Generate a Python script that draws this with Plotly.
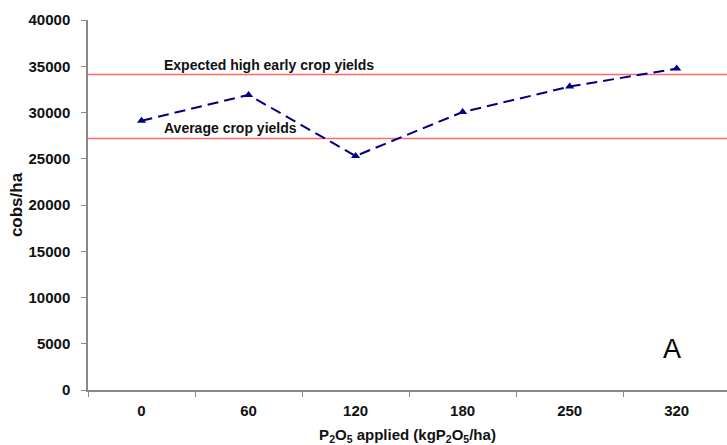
import plotly.graph_objects as go

# P2O5 rates (kg P2O5/ha) and resulting cob yields (cobs/ha)
rates = ["0", "60", "120", "180", "250", "320"]
cobs = [29100, 31900, 25300, 30050, 32800, 34750]

# reference yield levels
ref_labels = ["Expected high early crop yields", "Average crop yields"]
ref_values = [34100, 27200]

y_ticks = [0, 5000, 10000, 15000, 20000, 25000, 30000, 35000, 40000]
y_tick_text = [str(v) for v in y_ticks]

FONT = "Liberation Sans, Arial, sans-serif"
PLOT_LEFT, PLOT_WIDTH = 88, 639

fig = go.Figure()

fig.add_trace(go.Scatter(
    x=rates, y=cobs, mode="lines+markers",
    line=dict(color="#000080", width=2, dash="11px,6px"),
    marker=dict(symbol="triangle-up", size=8, color="#000080"),
    showlegend=False,
))

for label, val in zip(ref_labels, ref_values):
    fig.add_shape(type="line", xref="paper", x0=0, x1=1, yref="y", y0=val, y1=val,
                  line=dict(color="#ff6b6b", width=1.5), layer="below")
    fig.add_annotation(x=0.116, xref="paper", y=val, yref="y", yshift=10,
                       text=label, showarrow=False, xanchor="left", yanchor="middle",
                       font=dict(family=FONT, size=14, color="#111", weight="bold"))

# panel letter
fig.add_annotation(x=(672 - PLOT_LEFT) / PLOT_WIDTH, xref="paper", y=0.11, yref="paper",
                   text="A", showarrow=False, xanchor="center", yanchor="middle",
                   font=dict(family=FONT, size=27, color="#000"))

fig.update_layout(
    width=727, height=445,
    margin=dict(l=PLOT_LEFT, r=0, t=20, b=55),
    paper_bgcolor="white", plot_bgcolor="white",
    font=dict(family=FONT, color="#111"),
    xaxis=dict(
        type="category", range=[-0.5, 5.47],
        showline=True, linecolor="#888", linewidth=1.5,
        ticks="outside", tickson="boundaries", ticklen=5, tickcolor="#888",
        ticklabelstandoff=6,
        showgrid=False, zeroline=False,
        tickfont=dict(family=FONT, size=15, color="#111", weight="bold"),
        title=dict(text="P<sub>2</sub>O<sub>5</sub> applied (kgP<sub>2</sub>O<sub>5</sub>/ha)",
                   font=dict(family=FONT, size=15, color="#111", weight="bold"), standoff=14),
    ),
    yaxis=dict(
        range=[0, 40000], tickvals=y_ticks, ticktext=y_tick_text,
        showline=True, linecolor="#888", linewidth=1.5,
        ticks="outside", ticklen=5, tickcolor="#888",
        ticklabelstandoff=8,
        showgrid=False, zeroline=False,
        tickfont=dict(family=FONT, size=15, color="#111", weight="bold"),
        title=dict(text="cobs/ha", font=dict(family=FONT, size=17, color="#111", weight="bold"),
                   standoff=2),
    ),
)

fig.write_html("out.html")
